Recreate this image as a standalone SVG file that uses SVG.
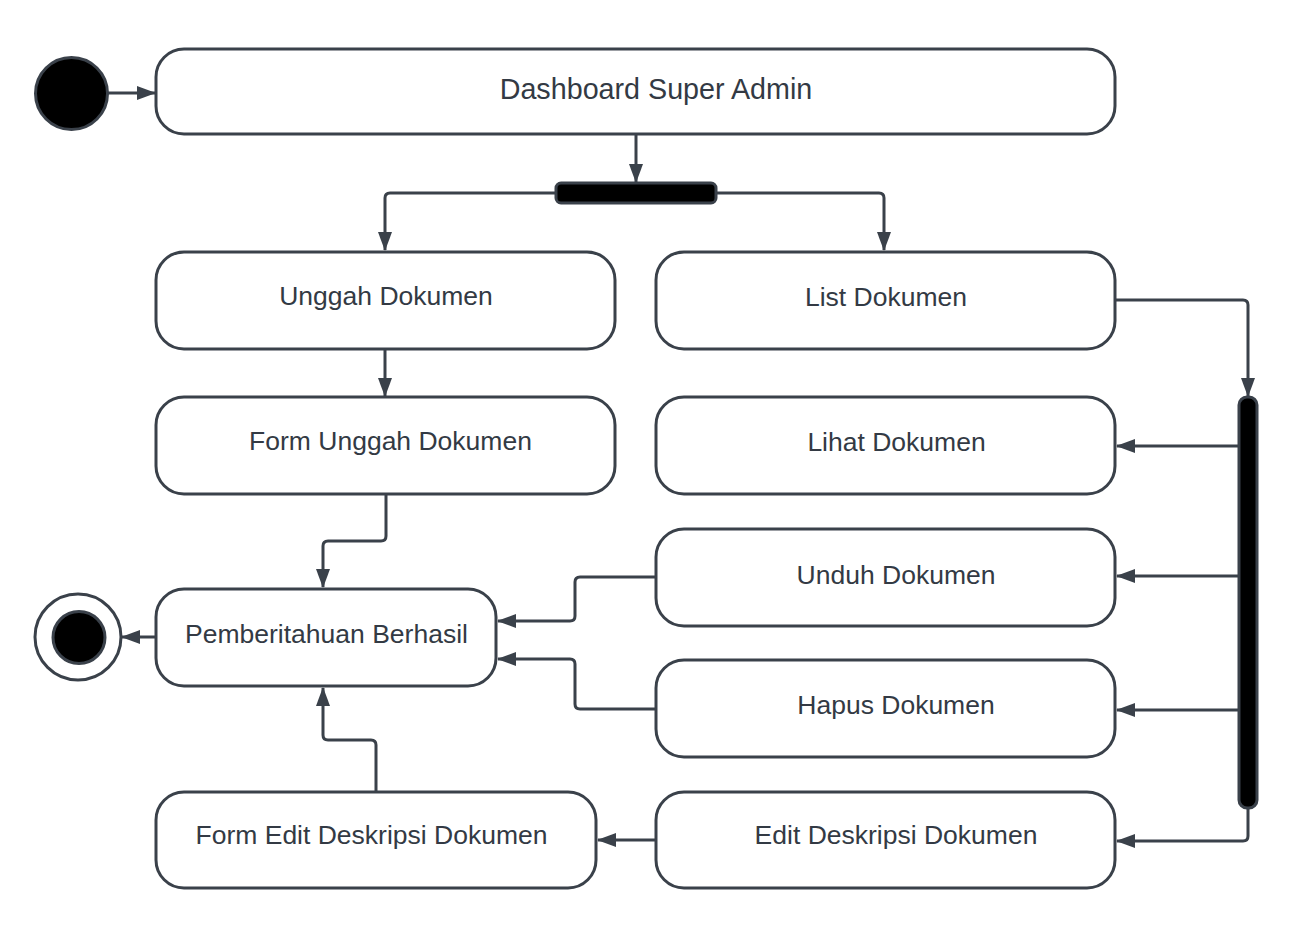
<svg xmlns="http://www.w3.org/2000/svg" width="1291" height="925" viewBox="0 0 1291 925">
<defs>
<style>
.box{fill:#ffffff;stroke:#3a414a;stroke-width:3}
.bar{fill:#000000;stroke:#3a414a;stroke-width:3}
.lbl{font-family:"Liberation Sans",Arial,sans-serif;font-size:26.5px;fill:#333a44;text-anchor:middle}
.conn path{fill:none;stroke:#3a414a;stroke-width:3;marker-end:url(#arr)}
</style>
<marker id="arr" markerUnits="userSpaceOnUse" markerWidth="20" markerHeight="14" refX="18" refY="7" orient="auto">
<path d="M0,0 L19,7 L0,14 z" fill="#3a414a"/>
</marker>
</defs>
<rect width="1291" height="925" fill="#ffffff"/>
<g id="start"><circle cx="71.5" cy="93.5" r="36" class="bar"/></g>
<g id="dashboard"><rect x="156" y="49" width="959" height="85" rx="28" class="box"/><text x="656" y="99" class="lbl" style="font-size:28.7px">Dashboard Super Admin</text></g>
<g id="fork1"><rect x="556" y="183" width="160" height="20" rx="5" class="bar"/></g>
<g id="unggah"><rect x="156" y="252" width="459" height="97" rx="28" class="box"/><text x="386" y="305" class="lbl">Unggah Dokumen</text></g>
<g id="list"><rect x="656" y="252" width="459" height="97" rx="28" class="box"/><text x="886" y="306" class="lbl">List Dokumen</text></g>
<g id="formunggah"><rect x="156" y="397" width="459" height="97" rx="28" class="box"/><text x="390.5" y="450" class="lbl">Form Unggah Dokumen</text></g>
<g id="lihat"><rect x="656" y="397" width="459" height="97" rx="28" class="box"/><text x="896.5" y="451" class="lbl">Lihat Dokumen</text></g>
<g id="unduh"><rect x="656" y="529" width="459" height="97" rx="28" class="box"/><text x="896" y="584" class="lbl">Unduh Dokumen</text></g>
<g id="hapus"><rect x="656" y="660" width="459" height="97" rx="28" class="box"/><text x="896" y="714" class="lbl">Hapus Dokumen</text></g>
<g id="editdeskripsi"><rect x="656" y="792" width="459" height="96" rx="28" class="box"/><text x="896" y="844" class="lbl">Edit Deskripsi Dokumen</text></g>
<g id="pemberitahuan"><rect x="156" y="589" width="340" height="97" rx="28" class="box"/><text x="326.5" y="643" class="lbl">Pemberitahuan Berhasil</text></g>
<g id="formedit"><rect x="156" y="792" width="440" height="96" rx="28" class="box"/><text x="371.5" y="844" class="lbl">Form Edit Deskripsi Dokumen</text></g>
<g id="fork2"><rect x="1239" y="397" width="18" height="411" rx="8" class="bar"/></g>
<g id="end"><circle cx="78" cy="637" r="43" class="box"/><circle cx="79" cy="637.5" r="26" class="bar"/></g>
<g id="connectors" class="conn">
<path d="M108,93 L155,93"/>
<path d="M636,135 L636,182"/>
<path d="M556,193 L390,193 Q385,193 385,198 L385,250"/>
<path d="M716,193 L879,193 Q884,193 884,198 L884,250"/>
<path d="M385,350 L385,396"/>
<path d="M386,495 L386,536 Q386,541 381,541 L328,541 Q323,541 323,546 L323,587"/>
<path d="M1116,300 L1243,300 Q1248,300 1248,305 L1248,396"/>
<path d="M1239,446 L1117,446"/>
<path d="M1239,576 L1117,576"/>
<path d="M1239,710 L1117,710"/>
<path d="M1248,809 L1248,836 Q1248,841 1243,841 L1117,841"/>
<path d="M655,577 L580,577 Q575,577 575,582 L575,616 Q575,621 570,621 L498,621"/>
<path d="M655,709 L580,709 Q575,709 575,704 L575,664 Q575,659 570,659 L498,659"/>
<path d="M655,840 L598,840"/>
<path d="M376,791 L376,745 Q376,740 371,740 L328,740 Q323,740 323,735 L323,688"/>
<path d="M155,637 L122,637"/>
</g>
</svg>
